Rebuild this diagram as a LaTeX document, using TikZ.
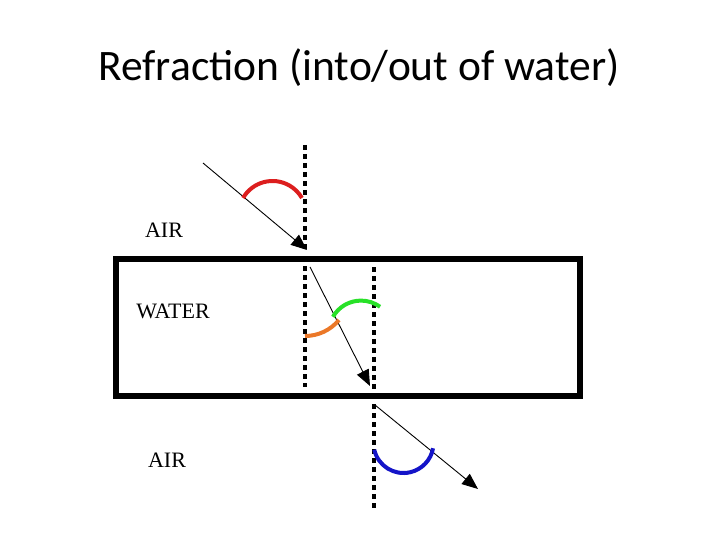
\documentclass[tikz,border=0pt]{standalone}
\usepackage{fontspec}
\setmainfont{Liberation Serif}
\newfontfamily\titlefont{Carlito}
\usetikzlibrary{arrows.meta}
\definecolor{arcred}{RGB}{220,30,30}
\definecolor{arcgreen}{RGB}{40,225,40}
\definecolor{arcorange}{RGB}{235,120,40}
\definecolor{arcblue}{RGB}{20,20,200}
\tikzset{
  normalline/.style={line width=4.5pt, dash pattern=on 5pt off 4pt, black},
  ray/.style={line width=0.9pt, -{Triangle[length=16pt,width=13pt]}},
  anglearc/.style={line width=4pt},
  label/.style={font=\fontsize{22}{25}\selectfont, inner sep=0pt}
}
\begin{document}
\begin{tikzpicture}[x=1pt,y=-1pt]
\useasboundingbox (0,0) rectangle (720,540);
\fill[white] (0,0) rectangle (720,540);
% title
\node[font=\titlefont\fontsize{43.5}{50}\selectfont, anchor=base, inner sep=0pt] (title) at (359,81) {Refraction (into/out of water)};
% water box
\draw[line width=6pt] (116,258.5) rectangle (579.5,396);
% labels
\node[label] (air1) at (164,230) {AIR};
\node[label] (water) at (173,311) {WATER};
\node[label] (air2) at (167,460) {AIR};
% normals
\coordinate (n1a) at (305,145); \coordinate (n1b) at (305,252);
\coordinate (n2a) at (305,266); \coordinate (n2b) at (305,387);
\coordinate (n3a) at (374,267); \coordinate (n3b) at (374,391);
\coordinate (n4a) at (374,404); \coordinate (n4b) at (374,509);
\draw[normalline] (n1a) -- (n1b);
\draw[normalline] (n2a) -- (n2b);
\draw[normalline] (n3a) -- (n3b);
\draw[normalline] (n4a) -- (n4b);
% rays
\coordinate (r1a) at (203,163); \coordinate (r1b) at (307,250);
\coordinate (r2a) at (310,267); \coordinate (r2b) at (370,386);
\coordinate (r3a) at (375,405); \coordinate (r3b) at (478,489);
\draw[ray] (r1a) -- (r1b);
\draw[ray] (r2a) -- (r2b);
\draw[ray] (r3a) -- (r3b);
% angle arcs
\draw[anglearc, arcred] (272.5,215) ++(210:34) arc[start angle=210, end angle=330, radius=34];
\draw[anglearc, arcgreen] (361,333) ++(210:32.4) arc[start angle=210, end angle=306, radius=32.4];
\draw[anglearc, arcorange] (305,292) ++(90:44) arc[start angle=90, end angle=39.5, radius=44];
\draw[anglearc, arcblue] (403.5,443) ++(167:30) arc[start angle=167, end angle=10, radius=30];
\end{tikzpicture}
\end{document}
